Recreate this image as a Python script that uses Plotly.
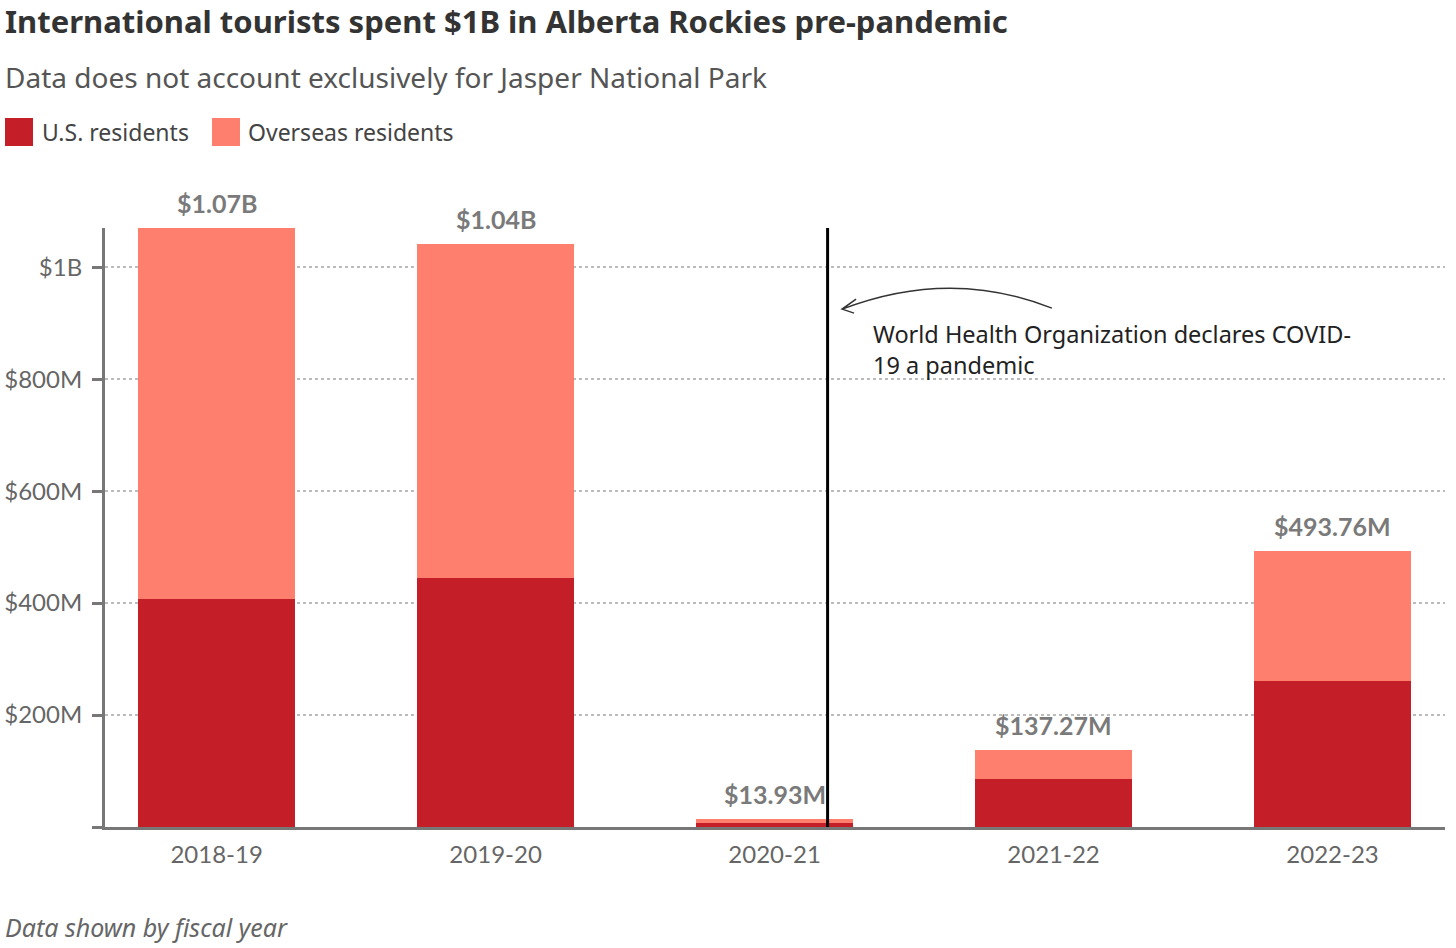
import plotly.graph_objects as go

# fiscal years and spending (millions of dollars)
years = ['2018-19', '2019-20', '2020-21', '2021-22', '2022-23']
us_residents = [408, 445, 7.5, 85.4, 261.6]
overseas_residents = [662, 597, 6.43, 51.87, 232.16]
series_names = ['U.S. residents', 'Overseas residents']
series_colors = ['#C41F28', '#FF7F6E']

y_tickvals = [0, 200, 400, 600, 800, 1000]
y_ticktext = ['', '$200M', '$400M', '$600M', '$800M', '$1B']

totals = [u + o for u, o in zip(us_residents, overseas_residents)]


def money(v):
    if v >= 1000:
        return '$%.2fB' % (v / 1000)
    return '$%.2fM' % v


fig = go.Figure()
fig.add_trace(go.Bar(x=years, y=us_residents, name=series_names[0],
                     marker=dict(color=series_colors[0], line=dict(width=0)), width=0.563))
fig.add_trace(go.Bar(x=years, y=overseas_residents, name=series_names[1],
                     marker=dict(color=series_colors[1], line=dict(width=0)), width=0.563))

# total labels on top of each stack
for yr, t in zip(years, totals):
    fig.add_annotation(x=yr, y=t, text='<b>' + money(t) + '</b>', showarrow=False,
                       yanchor='bottom', yshift=8,
                       font=dict(family='Lato', size=25, color='#7a7a7a'))

# pandemic marker line
fig.add_shape(type='line', xref='x', yref='paper', x0=2.19, x1=2.19, y0=0, y1=1,
              line=dict(color='black', width=3))

# curved arrow pointing at the line
fig.add_shape(type='path', xref='x', yref='y',
              path='M 2.994,926.9 Q 2.629,999.1 2.242,925.1 M 2.292,942.9 L 2.242,925.1 L 2.285,918.0',
              line=dict(color='#333333', width=1.5))
fig.add_annotation(x=2.3455, y=853.8, xanchor='left', yanchor='middle', align='left', showarrow=False,
                   text='World Health Organization declares COVID-<br>19 a pandemic',
                   font=dict(family='Noto Sans', size=23.5, color='#222222'))

# legend drawn by hand so the swatches are big squares
fig.add_shape(type='rect', xref='paper', yref='paper', x0=-0.07463, x1=-0.05373, y0=1.1369, y1=1.1836,
              fillcolor=series_colors[0], line=dict(width=0))
fig.add_annotation(xref='paper', yref='paper', x=-0.04851, y=1.1603, xanchor='left', yanchor='middle',
                   text=series_names[0], showarrow=False,
                   font=dict(family='Noto Sans', size=23, color='#444444'))
fig.add_shape(type='rect', xref='paper', yref='paper', x0=0.07985, x1=0.10075, y0=1.1369, y1=1.1836,
              fillcolor=series_colors[1], line=dict(width=0))
fig.add_annotation(xref='paper', yref='paper', x=0.10522, y=1.1603, xanchor='left', yanchor='middle',
                   text=series_names[1], showarrow=False,
                   font=dict(family='Noto Sans', size=23, color='#444444'))

# title, subtitle and footnote
fig.add_annotation(xref='paper', yref='paper', x=-0.0761, y=1.3455, xanchor='left', yanchor='middle',
                   text='<b>International tourists spent $1B in Alberta Rockies pre-pandemic</b>',
                   showarrow=False, font=dict(family='Noto Sans', size=31, color='#333333'))
fig.add_annotation(xref='paper', yref='paper', x=-0.0761, y=1.2521, xanchor='left', yanchor='middle',
                   text='Data does not account exclusively for Jasper National Park', showarrow=False,
                   font=dict(family='Noto Sans', size=28, color='#555555'))
fig.add_annotation(xref='paper', yref='paper', x=-0.0761, y=-0.16694, xanchor='left', yanchor='middle',
                   text='<i>Data shown by fiscal year</i>', showarrow=False,
                   font=dict(family='Noto Sans', size=25, color='#666666'))

fig.update_layout(
    width=1456, height=948,
    barmode='stack',
    showlegend=False,
    plot_bgcolor='white', paper_bgcolor='white',
    margin=dict(l=105, r=11, t=228, b=121, autoexpand=False),
)
fig.update_xaxes(type='category', range=[-0.4, 4.403], showline=True, linecolor='#777777', linewidth=3,
                 ticks='', ticklabelstandoff=4, showgrid=False, automargin=False,
                 tickfont=dict(family='Lato', size=24, color='#666666'))
fig.update_yaxes(range=[0, 1070], tickvals=y_tickvals, ticktext=y_ticktext,
                 showline=True, linecolor='#777777', linewidth=3, automargin=False,
                 ticks='outside', ticklen=10, tickwidth=3, tickcolor='#777777', ticklabelstandoff=5,
                 showgrid=True, gridcolor='#bbbbbb', gridwidth=1.5, griddash='dot', zeroline=False,
                 tickfont=dict(family='Lato', size=24, color='#666666'))

# drop the default 8px body margin so the figure sits at the window corner
fig.write_html("out.html", config={'displayModeBar': False},
               post_script="document.body.style.margin='0px';")
